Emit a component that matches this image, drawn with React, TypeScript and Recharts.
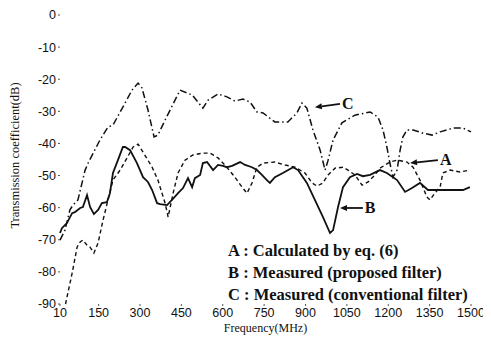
import { LineChart, Line, XAxis, YAxis, ReferenceLine, Customized } from 'recharts';

// A : calculated (dashed)
const aFreq = [30, 54, 72, 83, 93, 108, 119, 133, 148, 166, 184, 202, 228, 253, 275, 293, 311, 344, 365, 391, 402, 420, 438, 463, 492, 528, 554, 583, 615, 644, 670, 688, 706, 724, 746, 789, 826, 862, 898, 924, 942, 963, 982, 1007, 1036, 1054, 1079, 1105, 1127, 1152, 1170, 1206, 1232, 1268, 1290, 1315, 1340, 1351, 1369, 1388, 1398, 1424, 1460, 1496];
const aDb = [-90, -80.4, -72.3, -70.7, -70.1, -71.7, -72.3, -74.1, -71, -63.9, -57.6, -51.4, -48.3, -44.5, -41.1, -40.2, -42.7, -47.4, -51.4, -58.6, -62.9, -55.5, -49.2, -45.2, -43.6, -43, -43, -44.5, -47.4, -50.5, -53.6, -55.5, -52.3, -47.4, -46.1, -45.8, -46.7, -47.4, -49.2, -52.3, -53.3, -52.3, -49.8, -47.7, -47.4, -48.3, -49.8, -53, -52, -49.8, -47.7, -45.8, -45.2, -45.8, -47.4, -51.4, -56.7, -57.6, -55.5, -53.6, -49.2, -48.3, -48.9, -48.3];

// B : measured, proposed filter (solid)
const bFreq = [10, 17, 35, 54, 64, 83, 93, 108, 119, 133, 148, 162, 180, 191, 202, 220, 238, 246, 264, 289, 311, 329, 344, 362, 373, 398, 416, 438, 456, 474, 489, 499, 518, 528, 543, 565, 583, 601, 615, 634, 663, 681, 706, 724, 742, 760, 771, 789, 818, 855, 873, 905, 934, 963, 989, 1000, 1018, 1036, 1061, 1087, 1108, 1134, 1170, 1195, 1232, 1261, 1286, 1315, 1344, 1388, 1435, 1471, 1496];
const bDb = [-67.9, -66.4, -64.8, -61.7, -61.4, -60.1, -59.8, -56.1, -59.8, -62, -60.7, -58.6, -58.3, -55.5, -49.2, -45.2, -41.1, -41.1, -42.1, -46.1, -50.5, -52, -54.5, -58.6, -58.9, -59.2, -57.6, -55.5, -53.9, -50.8, -53.6, -50.8, -49.8, -46.1, -45.8, -48.3, -46.7, -47, -47.4, -47, -45.8, -46.7, -47.4, -48.3, -49.8, -51.4, -52.3, -50.5, -49.2, -47.4, -48.3, -52.3, -57.6, -62.9, -67.9, -67, -59.8, -53.6, -50.5, -49.5, -50.2, -49.8, -48.3, -49.2, -51.4, -55.1, -53.9, -52.3, -54.5, -54.5, -54.5, -54.5, -53.6];

// C : measured, conventional filter (dash-dot)
const cFreq = [10, 28, 46, 57, 75, 101, 112, 155, 184, 202, 246, 271, 293, 307, 329, 351, 365, 391, 409, 445, 489, 528, 547, 583, 615, 644, 673, 699, 724, 746, 789, 836, 869, 887, 905, 927, 953, 971, 982, 1000, 1032, 1079, 1134, 1163, 1181, 1195, 1206, 1217, 1232, 1243, 1253, 1268, 1290, 1326, 1359, 1388, 1435, 1471, 1500];
const cDb = [-70.1, -67, -60.7, -59.2, -57.6, -48.3, -46.1, -38.9, -34.9, -34.3, -27.4, -23.4, -21.2, -22.7, -29.6, -38, -37.4, -32.7, -29.6, -23.4, -24.9, -29, -26.5, -24.6, -25.5, -26.8, -26.2, -27.1, -30.2, -30.5, -33.3, -33.3, -30.5, -27.4, -29, -35.8, -42.1, -48.3, -45.2, -38.9, -33.6, -31.2, -30.2, -31.8, -35.8, -41.1, -46.1, -50.5, -48.3, -42.1, -38, -35.8, -35.8, -36.8, -37.4, -36.4, -35.2, -35.2, -36.4];

const xTicks = [10, 150, 300, 450, 600, 750, 900, 1050, 1200, 1350, 1500];
const yTicks = [0, -10, -20, -30, -40, -50, -60, -70, -80, -90];

const arrows = [
  { name: 'C', tail: [1025, -27.7], tip: [934, -28.7] },
  { name: 'A', tail: [1380, -45.2], tip: [1279, -46.1] },
  { name: 'B', tail: [1108, -60.1], tip: [1025, -60.1] },
];

const notes = [
  'A : Calculated by eq. (6)',
  'B : Measured (proposed filter)',
  'C : Measured (conventional filter)',
];

const toPoints = (fs: number[], vs: number[]) => fs.map((f, i) => ({ f, v: vs[i] }));
const seriesA = toPoints(aFreq, aDb);
const seriesB = toPoints(bFreq, bDb);
const seriesC = toPoints(cFreq, cDb);

const INK = '#111';
const serif = '"Liberation Serif", "Times New Roman", serif';
const sans = '"Liberation Sans", Arial, sans-serif';

function Arrow(props: any) {
  const { x1, y1, x2, y2, name } = props;
  const ang = Math.atan2(y2 - y1, x2 - x1);
  const len = 7;
  const w = 3;
  const bx = x2 - len * Math.cos(ang);
  const by = y2 - len * Math.sin(ang);
  const px = -Math.sin(ang) * w;
  const py = Math.cos(ang) * w;
  return (
    <g>
      <line x1={x1} y1={y1} x2={bx} y2={by} stroke={INK} strokeWidth={1.8} />
      <polygon points={`${x2},${y2} ${bx + px},${by + py} ${bx - px},${by - py}`} fill={INK} />
      <text x={x1 + 2} y={y1 + 5} fontFamily={serif} fontWeight="bold" fontSize={16} fill={INK}>
        {name}
      </text>
    </g>
  );
}

function Notes() {
  return (
    <g>
      {notes.map((n, i) => (
        <text key={n} x={220} y={248 + i * 22} fontFamily={serif} fontWeight="bold" fontSize={16.5} fill={INK}>
          {n}
        </text>
      ))}
    </g>
  );
}

export default function App() {
  return (
    <LineChart width={480} height={330} margin={{ top: 7, right: 17, bottom: 0, left: 0 }}>
      <XAxis
        type="number"
        dataKey="f"
        domain={[10, 1500]}
        ticks={xTicks}
        interval={0}
        height={34}
        axisLine={false}
        tickSize={2}
        tickLine={{ stroke: '#555' }}
        tick={{ fontSize: 12.5, fontFamily: sans, fill: INK }}
        label={{ value: 'Frequency(MHz)', position: 'insideBottom', offset: 6, fontSize: 12, fontFamily: serif, fill: INK }}
      />
      <XAxis
        xAxisId="top"
        orientation="top"
        type="number"
        dataKey="f"
        domain={[10, 1500]}
        ticks={xTicks}
        height={0}
        mirror
        axisLine={false}
        tickSize={3}
        tickLine={{ stroke: '#999' }}
        tickFormatter={() => ''}
      />
      <YAxis
        type="number"
        domain={[-90, 0]}
        ticks={yTicks}
        interval={0}
        width={52}
        axisLine={false}
        tickSize={2}
        tickLine={{ stroke: '#555' }}
        tick={{ fontSize: 12.5, fontFamily: sans, fill: INK }}
        label={{ value: 'Transmission coefficient(dB)', angle: -90, position: 'center', dx: -19, dy: -4, fontSize: 12.5, fontFamily: serif, fill: INK }}
      />
      <YAxis
        yAxisId="right"
        orientation="right"
        type="number"
        domain={[-90, 0]}
        ticks={yTicks}
        width={0}
        mirror
        axisLine={false}
        tickSize={3}
        tickLine={{ stroke: '#999' }}
        tickFormatter={() => ''}
      />
      <Line data={seriesA} dataKey="v" type="linear" stroke={INK} strokeWidth={1.4} strokeDasharray="4 3" dot={false} isAnimationActive={false} />
      <Line data={seriesB} dataKey="v" type="linear" stroke={INK} strokeWidth={1.8} dot={false} isAnimationActive={false} />
      <Line data={seriesC} dataKey="v" type="linear" stroke={INK} strokeWidth={1.5} strokeDasharray="7 3 1.5 3" dot={false} isAnimationActive={false} />
      {arrows.map((a) => (
        <ReferenceLine
          key={a.name}
          segment={[{ x: a.tail[0], y: a.tail[1] }, { x: a.tip[0], y: a.tip[1] }]}
          shape={(p: any) => <Arrow {...p} name={a.name} />}
        />
      ))}
      <Customized component={Notes} />
    </LineChart>
  );
}
